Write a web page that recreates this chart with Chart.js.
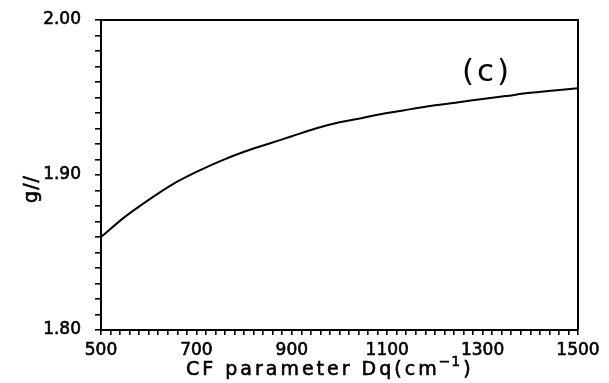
<!DOCTYPE html>
<html>
<head>
<meta charset="utf-8">
<script src="https://cdn.jsdelivr.net/npm/chart.js@4.4.0/dist/chart.umd.min.js"></script>
<style>
  html, body { margin: 0; padding: 0; background: #fff; }
  #wrap { width: 609px; height: 383px; }
</style>
</head>
<body>
<div id="wrap"><canvas id="chart_c"></canvas></div>
<script>
// CF parameter Dq (cm-1) vs g-parallel
var dq = [500, 550, 600, 650, 700, 750, 800, 850, 900, 950, 1000,
          1050, 1100, 1150, 1200, 1250, 1300, 1350, 1400, 1450, 1500];
var gPar = [1.860, 1.873, 1.884, 1.894, 1.902, 1.909, 1.915, 1.920, 1.925, 1.930, 1.934,
            1.937, 1.940, 1.9425, 1.945, 1.947, 1.949, 1.951, 1.953, 1.9545, 1.956];
var xLabels = [500, 700, 900, 1100, 1300, 1500];
var yLabels = [1.80, 1.90, 2.00];
var panelLabel = "(c)";

var FONT = "'DejaVu Sans', sans-serif";

const ctxc = document.getElementById("chart_c");

var myChart = new Chart(ctxc, {
  type: "line",
  data: {
    datasets: [
      {
        label: "g//",
        data: dq.map(function (d, i) { return { x: d, y: gPar[i] }; }),
        borderColor: "#000",
        borderWidth: 2,
        pointRadius: 0,
        cubicInterpolationMode: "monotone",
        fill: false,
      },
    ],
  },
  options: {
    responsive: true,
    maintainAspectRatio: false,
    animation: false,
    layout: { padding: { left: 0, right: 31, top: 20, bottom: 0 } },
    plugins: {
      legend: { display: false },
      tooltip: { enabled: false },
    },
    scales: {
      x: {
        type: "linear",
        min: 500,
        max: 1500,
        afterFit: function (s) {
          s.height = 53;
          s.paddingLeft = 0;
          s.paddingRight = 0;
        },
        border: { display: true, color: "#000", width: 2 },
        grid: { drawOnChartArea: false, drawTicks: true, tickLength: 5, color: "#000", lineWidth: 1.6 },
        ticks: {
          stepSize: 20,
          autoSkip: false,
          maxTicksLimit: 100,
          maxRotation: 0,
          padding: 5,
          color: "#000",
          textStrokeColor: "#000",
          textStrokeWidth: 0.6,
          font: { family: FONT, size: 17 },
          callback: function (value) {
            return xLabels.indexOf(Math.round(value)) >= 0 ? String(Math.round(value)) : "";
          },
        },
      },
      y: {
        min: 1.80,
        max: 2.00,
        afterFit: function (s) {
          s.width = 101;
          s.paddingTop = 0;
          s.paddingBottom = 0;
        },
        border: { display: true, color: "#000", width: 2 },
        grid: { drawOnChartArea: false, drawTicks: true, tickLength: 6, color: "#000", lineWidth: 1.6 },
        ticks: {
          stepSize: 0.01,
          autoSkip: false,
          maxTicksLimit: 100,
          padding: 14,
          color: "#000",
          textStrokeColor: "#000",
          textStrokeWidth: 0.6,
          font: { family: FONT, size: 17 },
          callback: function (value) {
            for (var i = 0; i < yLabels.length; i++) {
              if (Math.abs(value - yLabels[i]) < 1e-6) return yLabels[i].toFixed(2);
            }
            return "";
          },
        },
      },
    },
  },
  plugins: [
    {
      // top + right frame lines, axis titles and the panel label
      id: "frameAndTitles",
      afterDraw: (chart) => {
        const { ctx, chartArea: { left, right, top, bottom } } = chart;
        ctx.save();
        ctx.strokeStyle = "#000";
        ctx.lineWidth = 2;
        ctx.beginPath();
        ctx.moveTo(left, top);
        ctx.lineTo(right, top);
        ctx.lineTo(right, bottom);
        ctx.stroke();

        ctx.fillStyle = "#000";
        ctx.lineWidth = 0.6;
        ctx.textBaseline = "alphabetic";
        ctx.textAlign = "left";

        // x title with superscript
        ctx.letterSpacing = "3px";
        ctx.font = "19px " + FONT;
        var part1 = "CF parameter Dq(cm";
        var x0 = 186, base = 375;
        ctx.fillText(part1, x0, base);
        ctx.strokeText(part1, x0, base);
        var w1 = ctx.measureText(part1).width;
        ctx.font = "14px " + FONT;
        ctx.letterSpacing = "1px";
        ctx.fillText("\u22121", x0 + w1 - 1, base - 9);
        ctx.strokeText("\u22121", x0 + w1 - 1, base - 9);
        var w2 = ctx.measureText("\u22121").width;
        ctx.font = "19px " + FONT;
        ctx.fillText(")", x0 + w1 + w2 + 1, base);
        ctx.strokeText(")", x0 + w1 + w2 + 1, base);

        // y title, rotated
        ctx.save();
        ctx.translate(37, 189);
        ctx.rotate(-Math.PI / 2);
        ctx.textAlign = "center";
        ctx.letterSpacing = "1px";
        ctx.font = "19px " + FONT;
        ctx.fillText("g//", 0, 0);
        ctx.strokeText("g//", 0, 0);
        ctx.restore();

        // panel label
        ctx.letterSpacing = "3px";
        ctx.textAlign = "center";
        ctx.textBaseline = "middle";
        ctx.font = "31px " + FONT;
        ctx.fillText(panelLabel, 487, 73);
        ctx.restore();
      },
    },
  ],
});
</script>
</body>
</html>
